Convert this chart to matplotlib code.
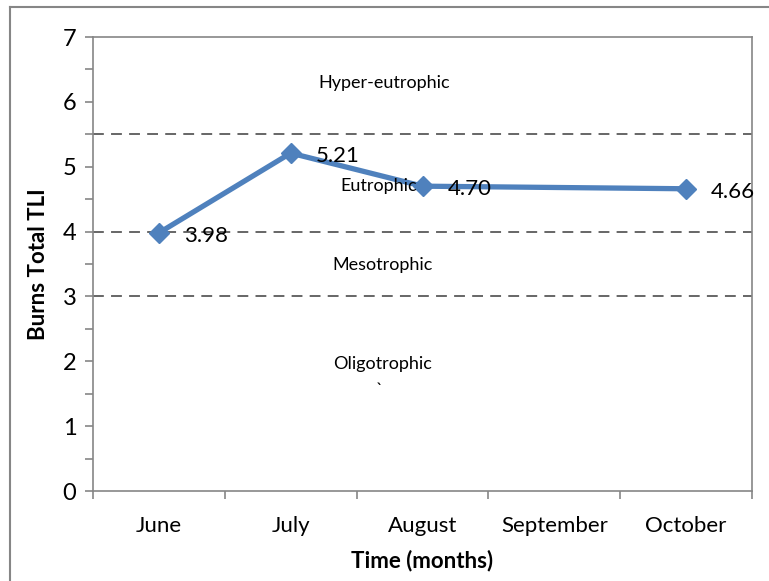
import matplotlib.pyplot as plt
import numpy as np
from matplotlib.lines import Line2D

months = ['June', 'July', 'August', 'September', 'October']
tli = [3.98, 5.21, 4.70, np.nan, 4.66]
labels = ['3.98', '5.21', '4.70', '', '4.66']
thresholds = [5.5, 4, 3]
zones = ['Hyper-eutrophic', 'Eutrophic', 'Mesotrophic', 'Oligotrophic']
zone_x = [1.71, 1.67, 1.70, 1.70]
zone_y = [6.29, 4.71, 3.48, 1.96]

plt.rcParams['font.family'] = ['Lato', 'DejaVu Sans']
grey = '#868686'
blue = '#4F81BD'

fig = plt.figure(figsize=(7.69, 5.81), dpi=100)
ax = fig.add_axes([93 / 769, 90 / 581, 659 / 769, 454 / 581])

x = np.arange(len(months))
tli = np.array(tli)
ok = ~np.isnan(tli)
ax.plot(x[ok], tli[ok], color=blue, lw=3.8, marker='D', ms=10, zorder=3)

for xi, v, lab in zip(x, tli, labels):
    if lab:
        ax.annotate(lab, (xi, v), xytext=(18, -2), textcoords='offset points',
                    fontsize=16, va='center', ha='left', zorder=4)

for t in thresholds:
    ax.axhline(t, color='#5a5a5a', lw=1.3, ls=(0, (6, 4)), zorder=1)

for name, xz, y in zip(zones, zone_x, zone_y):
    ax.text(xz, y, name, fontsize=13, ha='center', va='center')
ax.text(1.67, 1.56, '`', fontsize=13, ha='center', va='center')

ax.set_xlim(-0.5, len(months) - 0.5)
ax.set_ylim(0, 7)
ax.set_xticks(x)
ax.set_xticklabels(months, fontsize=16)
ax.set_xticks(np.arange(-0.5, len(months)), minor=True)
ax.tick_params(axis='x', which='major', length=0, pad=18)
ax.tick_params(axis='x', which='minor', length=6, color=grey, width=1.2)
ax.set_yticks(range(8))
ax.set_yticks(np.arange(0.5, 7, 1), minor=True)
ax.tick_params(axis='y', which='both', length=6, color=grey, width=1.2, labelsize=17, pad=6)
for s in ax.spines.values():
    s.set_color(grey)
    s.set_linewidth(1.2)

ax.set_xlabel('Time (months)', fontsize=16, fontweight='bold', labelpad=10)
ax.set_ylabel('Burns Total TLI', fontsize=16, fontweight='bold', labelpad=10)

# outer chart frame, only left and top edges visible
fx, fy = 10 / 769, 1 - 7 / 581
fig.add_artist(Line2D([fx, fx], [0, fy], transform=fig.transFigure, color=grey, lw=1.5))
fig.add_artist(Line2D([fx, 1], [fy, fy], transform=fig.transFigure, color=grey, lw=1.5))

plt.savefig('out.png', dpi=100)
